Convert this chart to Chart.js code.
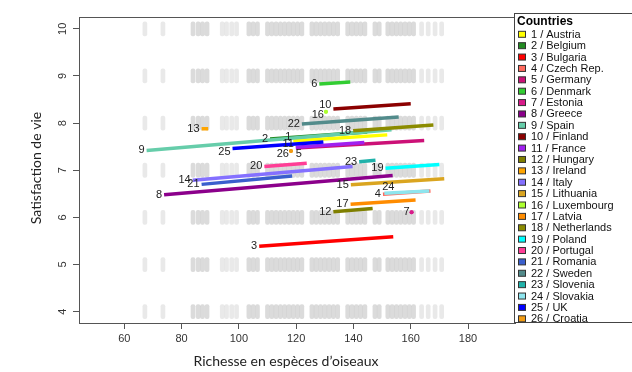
<!DOCTYPE html>
<html>
<head>
<meta charset="utf-8">
<script src="https://cdn.jsdelivr.net/npm/chart.js@4.4.1/dist/chart.umd.min.js"></script>
<style>
  body { margin: 0; background: #fff; }
  canvas { display: block; }
</style>
</head>
<body>
<canvas id="myChart" width="632" height="372"></canvas>
<script>
// countries, numbered 1..26 as in the legend
var countries = ['Austria', 'Belgium', 'Bulgaria', 'Czech Rep.', 'Germany', 'Denmark', 'Estonia', 'Greece',
  'Spain', 'Finland', 'France', 'Hungary', 'Ireland', 'Italy', 'Lithuania', 'Luxembourg', 'Latvia',
  'Netherlands', 'Poland', 'Portugal', 'Romania', 'Sweden', 'Slovenia', 'Slovakia', 'UK', 'Croatia'];

// fitted line per country: start / end of bird richness and life satisfaction
var xStart = [119, 110.9, 107.1, 150.3, 119.9, 128.1, 160.3, 73.9, 67.8, 133, 119.9, 133, 87, 83.9, 139.1, 130.4, 139, 139.9, 151.2, 108.9, 87, 122, 142, 150.8, 97.8, 118.2];
var xEnd   = [151.8, 144.8, 153.9, 166.9, 164.7, 138.9, 160.3, 153.7, 153.3, 160, 143.8, 146.7, 89.3, 139.7, 171.7, 130.4, 161.7, 167.9, 170, 123.7, 118.6, 155.8, 147.7, 166.5, 129.5, 118.2];
var yStart = [7.62, 7.66, 5.39, 6.49, 7.47, 8.83, 6.11, 6.48, 7.42, 8.30, 7.49, 6.12, 7.88, 6.79, 6.69, 8.24, 6.28, 7.84, 7.04, 7.08, 6.70, 7.98, 7.18, 6.51, 7.46, 7.41];
var yEnd   = [7.75, 7.81, 5.59, 6.56, 7.63, 8.87, 6.11, 6.89, 7.86, 8.41, 7.59, 6.19, 7.88, 7.08, 6.82, 8.24, 6.37, 7.96, 7.12, 7.15, 6.88, 8.13, 7.21, 6.56, 7.60, 7.41];

// raw observations (grey): answer levels and richness columns
var levels = [4, 5, 6, 7, 8, 9, 10];
var lightCols = [67.2, 73.5, 94.2, 95.7, 97.5, 99.2, 163.8, 166.1, 168.5, 170.8];
var darkCols = [84, 85.8, 87.3, 88.9, 103.5, 105, 106.5, 110, 111.5, 113, 114.5, 116, 117.5, 119, 120.5, 122,
  125.5, 127, 128.5, 130, 131.5, 133, 134.5, 138, 139.5, 141, 142.5, 144, 147.5, 149, 152, 153.5, 155, 156.5, 158, 159.5, 161];

var xTicks = [60, 80, 100, 120, 140, 160, 180];
var yTicks = [4, 5, 6, 7, 8, 9, 10];

var colors = ['#ffff00', '#228b22', '#ff0000', '#ff6a5e', '#cc1177', '#32cd32', '#d81b8a', '#8b008b',
  '#66cdaa', '#8b0000', '#a020f0', '#7f7f00', '#ffa500', '#8470ff', '#daa520', '#adff2f', '#ff8c00',
  '#8b8b00', '#00ffff', '#ff3e96', '#3a5fcd', '#528b8b', '#20b2aa', '#8ee5ee', '#0000ff', '#f39c12'];

// where a number label sits differently from "just left of the line start"
var labelNudge = {
  1: {dy: -4}, 10: {dy: -4}, 11: {dy: -3}, 16: {dy: 3}, 25: {dy: 3}, 26: {dy: 3},
  5: {dx: 3, dy: 6, align: 'center'}, 24: {dx: 4, dy: -6, align: 'center'}
};

var bandHalf = 0.15;

function band(cols) {
  var out = [];
  levels.forEach(function(l) {
    cols.forEach(function(c) { out.push({x: c, y: [l - bandHalf, l + bandHalf]}); });
  });
  return out;
}

var datasets = [];
for (var i = 0; i < countries.length; i++) {
  datasets.push({
    type: 'line',
    label: (i + 1) + ' / ' + countries[i],
    data: [{x: xStart[i], y: yStart[i]}, {x: xEnd[i], y: yEnd[i]}],
    borderColor: colors[i],
    backgroundColor: colors[i],
    borderWidth: 3.5,
    pointRadius: xStart[i] === xEnd[i] ? 2 : 0,
    pointBorderWidth: 0,
    fill: false,
    tension: 0,
    order: countries.length - i
  });
}
datasets.push({
  type: 'bar', data: band(darkCols), backgroundColor: 'rgba(190,190,190,0.55)',
  barThickness: 4, borderRadius: 2, borderSkipped: false, grouped: false, order: 100
});
datasets.push({
  type: 'bar', data: band(lightCols), backgroundColor: 'rgba(200,200,200,0.4)',
  barThickness: 4, borderRadius: 2, borderSkipped: false, grouped: false, order: 101
});

var extras = {
  id: 'extras',
  afterDatasetsDraw: function(chart) {
    var ctx = chart.ctx, xs = chart.scales.x, ys = chart.scales.y;
    ctx.save();
    ctx.font = '11px "Liberation Sans", Arial, sans-serif';
    ctx.fillStyle = '#222';
    ctx.textBaseline = 'middle';
    for (var i = 0; i < countries.length; i++) {
      var n = labelNudge[i + 1] || {};
      ctx.textAlign = n.align || 'right';
      var px = xs.getPixelForValue(xStart[i]) + (n.dx !== undefined ? n.dx : -2);
      var py = ys.getPixelForValue(yStart[i]) + (n.dy || 0);
      ctx.fillText(String(i + 1), px, py);
    }
    ctx.restore();
  },
  afterDraw: function(chart) {
    var ctx = chart.ctx, a = chart.chartArea, ys = chart.scales.y;
    ctx.save();
    // plot box
    ctx.strokeStyle = '#555';
    ctx.lineWidth = 1;
    ctx.strokeRect(a.left + 0.5, a.top + 0.5, a.right - a.left, a.bottom - a.top);

    // rotated y tick labels
    ctx.fillStyle = '#333';
    ctx.font = '11px "Liberation Sans", Arial, sans-serif';
    ctx.textAlign = 'center';
    ctx.textBaseline = 'middle';
    yTicks.forEach(function(v) {
      ctx.save();
      ctx.translate(63, ys.getPixelForValue(v));
      ctx.rotate(-Math.PI / 2);
      ctx.fillText(String(v), 0, 0);
      ctx.restore();
    });

    // axis titles
    ctx.fillStyle = '#222';
    ctx.font = '14px Lato, sans-serif';
    ctx.fillText('Richesse en espèces d\u2019oiseaux', 286, 361);
    ctx.save();
    ctx.translate(36, 168);
    ctx.rotate(-Math.PI / 2);
    ctx.fillText('Satisfaction de vie', 0, 0);
    ctx.restore();

    // legend
    ctx.fillStyle = '#fff';
    ctx.fillRect(514, 13, 130, 310);
    ctx.strokeStyle = '#444';
    ctx.strokeRect(514.5, 13.5, 130, 309);
    ctx.fillStyle = '#000';
    ctx.textAlign = 'left';
    ctx.font = 'bold 12px "Liberation Sans", Arial, sans-serif';
    ctx.fillText('Countries', 517, 22);
    ctx.font = '11px "Liberation Sans", Arial, sans-serif';
    for (var i = 0; i < countries.length; i++) {
      var y = 34.3 + i * 11.38;
      ctx.fillStyle = colors[i];
      ctx.fillRect(518.5, y - 3, 7, 6);
      ctx.strokeStyle = '#333';
      ctx.strokeRect(518.5, y - 3, 7, 6);
      ctx.fillStyle = '#111';
      ctx.fillText((i + 1) + ' / ' + countries[i], 531, y + 0.5);
    }
    ctx.restore();
  }
};

var ctx = document.getElementById('myChart').getContext('2d');
var myChart = new Chart(ctx, {
  type: 'line',
  data: { datasets: datasets },
  options: {
    responsive: false,
    animation: false,
    devicePixelRatio: 1,
    layout: { padding: { left: 0, top: 17, right: 117, bottom: 0 } },
    plugins: { legend: { display: false }, tooltip: { enabled: false } },
    scales: {
      x: {
        type: 'linear', min: 44.2, max: 196.4, offset: false,
        afterBuildTicks: function(s) { s.ticks = xTicks.map(function(v) { return {value: v}; }); },
        afterFit: function(s) { s.height = 49; },
        grid: { offset: false, drawOnChartArea: false, drawTicks: true, tickLength: 6, color: '#555' },
        border: { display: true, color: '#555' },
        ticks: { color: '#333', padding: 3, font: { family: '"Liberation Sans", Arial, sans-serif', size: 11 } }
      },
      y: {
        type: 'linear', min: 3.76, max: 10.25,
        afterBuildTicks: function(s) { s.ticks = yTicks.map(function(v) { return {value: v}; }); },
        afterFit: function(s) { s.width = 79; },
        grid: { drawOnChartArea: false, drawTicks: true, tickLength: 6, color: '#555' },
        border: { display: true, color: '#555' },
        ticks: { display: false }
      }
    }
  },
  plugins: [extras]
});
</script>
</body>
</html>
